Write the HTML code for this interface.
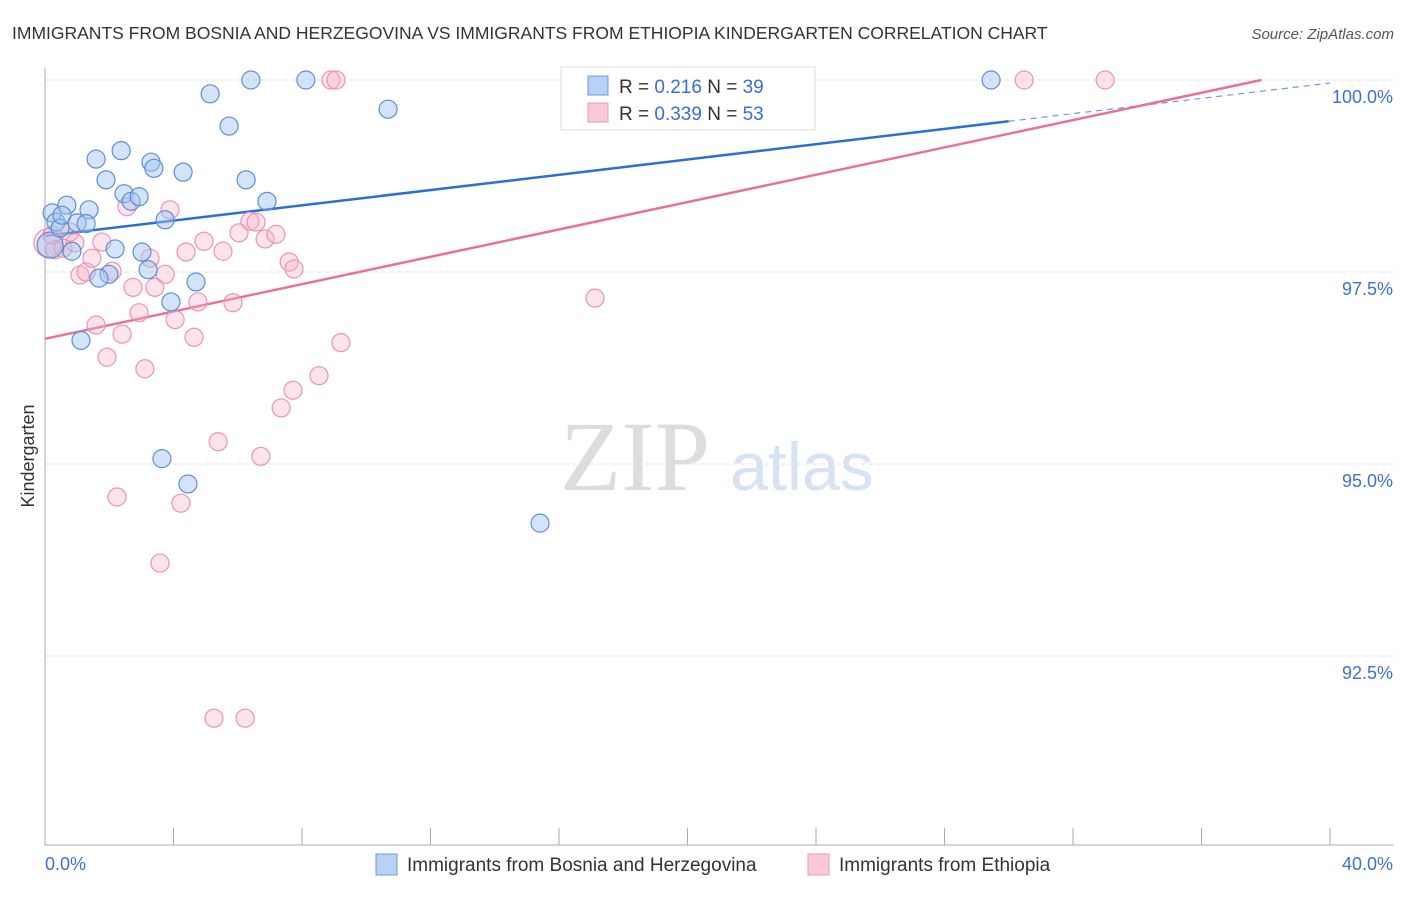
<!DOCTYPE html>
<html><head><meta charset="utf-8"><style>
body{margin:0;background:#fff;width:1406px;height:892px;overflow:hidden;font-family:"Liberation Sans",sans-serif}
</style></head><body>
<svg width="1406" height="892" xmlns="http://www.w3.org/2000/svg" font-family="Liberation Sans, sans-serif">
<text x="12" y="39" font-size="17.5" fill="#333">IMMIGRANTS FROM BOSNIA AND HERZEGOVINA VS IMMIGRANTS FROM ETHIOPIA KINDERGARTEN CORRELATION CHART</text>
<text x="1394" y="39" font-size="15" fill="#555" font-style="italic" text-anchor="end">Source: ZipAtlas.com</text>
<text x="635" y="490" font-size="100" fill="#ddd" font-family="Liberation Serif, serif" text-anchor="middle">ZIP</text>
<text x="802" y="490" font-size="68" fill="#d5e3f5" text-anchor="middle">atlas</text>
<g id="grid"></g>
<g id="axes"></g>
<g id="lines"></g>
<g id="pts"></g>
<text transform="translate(34,456) rotate(-90)" font-size="18" fill="#333" text-anchor="middle">Kindergarten</text>
<g>
<rect x="561" y="67" width="254" height="63" fill="#fff" stroke="#ddd"/>
<rect x="588" y="76" width="20" height="19" fill="#b8d2f5" stroke="#6a9be0"/>
<text x="619" y="93" font-size="19" fill="#333">R = <tspan fill="#3470d0">0.216</tspan>   N = <tspan fill="#3470d0">39</tspan></text>
<rect x="588" y="103" width="20" height="19" fill="#fbc8d8" stroke="#ee9ab5"/>
<text x="619" y="120" font-size="19" fill="#333">R = <tspan fill="#3470d0">0.339</tspan>   N = <tspan fill="#3470d0">53</tspan></text>
</g>
<g>
<rect x="376" y="854" width="21" height="21" fill="#b8d2f5" stroke="#6a9be0"/>
<text x="407" y="871" font-size="19" fill="#333">Immigrants from Bosnia and Herzegovina</text>
<rect x="808" y="854" width="21" height="21" fill="#fbc8d8" stroke="#ee9ab5"/>
<text x="839" y="871" font-size="19" fill="#333">Immigrants from Ethiopia</text>
</g>
</svg>
<script>
const blueX=[0.16,0.22,0.34,0.47,0.68,0.53,1.00,1.37,1.28,1.59,1.90,2.37,2.46,2.68,2.93,3.30,3.39,4.30,3.74,2.18,3.02,3.21,1.99,1.68,0.84,1.12,3.92,4.70,5.14,5.73,6.26,6.91,6.41,8.12,10.68,3.64,4.45,15.41,20.64,29.45];
const blueY=[97.85,98.27,98.15,98.07,98.37,98.24,98.14,98.31,98.13,98.97,98.70,99.08,98.52,98.42,98.48,98.93,98.85,98.80,98.18,97.80,97.76,97.53,97.47,97.42,97.77,96.61,97.11,97.37,99.82,99.40,98.70,98.42,100,100,99.62,95.07,94.74,94.23,100,100];
const pinkX=[0.09,0.22,0.31,0.56,0.78,0.93,1.09,1.28,1.46,1.59,1.77,1.93,2.09,2.24,2.40,2.55,2.74,2.93,3.11,3.27,3.42,3.58,3.74,3.89,4.05,4.23,4.39,4.64,4.76,4.95,5.26,5.39,5.54,5.85,6.04,6.23,6.38,6.57,6.72,6.85,7.19,7.35,7.60,7.75,7.72,8.53,8.90,9.06,9.21,17.12,23.35,30.48,33.00];
const pinkY=[97.88,97.98,97.79,97.81,98.02,97.88,97.46,97.50,97.68,96.81,97.89,96.39,97.51,94.57,96.69,98.35,97.30,96.97,96.24,97.68,97.30,93.71,97.47,98.31,96.88,94.49,97.76,96.65,97.11,97.90,91.69,95.29,97.77,97.10,98.01,91.69,98.16,98.15,95.10,97.93,97.99,95.73,97.63,97.54,95.96,96.15,100,100,96.58,97.16,100,100,100];
const blueTrend=[97.97,99.96];
const pinkTrend=[96.63,100.19];
const yTicks=[100,97.5,95,92.5];
const yTickLabels=["100.0%","97.5%","95.0%","92.5%"];
const xTickLabels=["0.0%","40.0%"];
const NS="http://www.w3.org/2000/svg";
const X=v=>45+v*32.125, Y=v=>80+(100-v)*76.8;
function mk(t,a,p){const e=document.createElementNS(NS,t);for(const k in a)e.setAttribute(k,a[k]);document.getElementById(p).appendChild(e);return e;}
yTicks.forEach((t,i)=>{
 const l=mk('line',{x1:45,x2:1393,y1:Y(t),y2:Y(t),stroke:'#ddd','stroke-dasharray':'4,4'},'grid');
 
 
 const tx=mk('text',{x:1393,y:Y(t)+23,'font-size':18,fill:'#3a72d0','text-anchor':'end'},'grid');
 tx.textContent=yTickLabels[i];
 
 
});
const ya=mk('line',{x1:45,x2:45,y1:68,y2:845,stroke:'#aaa'},'axes');


const xa=mk('line',{x1:45,x2:1393,y1:845,y2:845,stroke:'#aaa'},'axes');


for(let i=0;i<=10;i++){const t=mk('line',{x1:X(i*4),x2:X(i*4),y1:828,y2:845,stroke:'#aaa'},'axes');
 
 }
const x0=mk('text',{x:45,y:870,'font-size':18,fill:'#3a72d0'},'axes');x0.textContent=xTickLabels[0];


const x1=mk('text',{x:1393,y:870,'font-size':18,fill:'#3a72d0','text-anchor':'end'},'axes');x1.textContent=xTickLabels[1];


function bt(x){return blueTrend[0]+(blueTrend[1]-blueTrend[0])*x/40;}
function pt(x){return pinkTrend[0]+(pinkTrend[1]-pinkTrend[0])*x/40;}
const bl=mk('line',{x1:X(0),y1:Y(bt(0)),x2:X(30),y2:Y(bt(30)),stroke:'#2a6fd6','stroke-width':2.5},'lines');


const bd=mk('line',{x1:X(30),y1:Y(bt(30)),x2:X(40),y2:Y(bt(40)),stroke:'#6a9be0','stroke-width':1.2,'stroke-dasharray':'6,5'},'lines');


const pe=(100-pinkTrend[0])/(pinkTrend[1]-pinkTrend[0])*40;
const pl=mk('line',{x1:X(0),y1:Y(pt(0)),x2:X(pe),y2:Y(100),stroke:'#e8709a','stroke-width':2.5},'lines');


pinkX.forEach((x,i)=>{const c=mk('circle',{cx:X(x),cy:Y(pinkY[i]),r:i==0?14:9,fill:'rgba(246,176,200,0.35)',stroke:'#eb94b2','stroke-width':1.2},'pts');
 
 });
blueX.forEach((x,i)=>{const c=mk('circle',{cx:X(x),cy:Y(blueY[i]),r:i==0?13:9,fill:'rgba(160,195,240,0.45)',stroke:'#5b8fd8','stroke-width':1.2},'pts');
 
 });
</script>
</body></html>
